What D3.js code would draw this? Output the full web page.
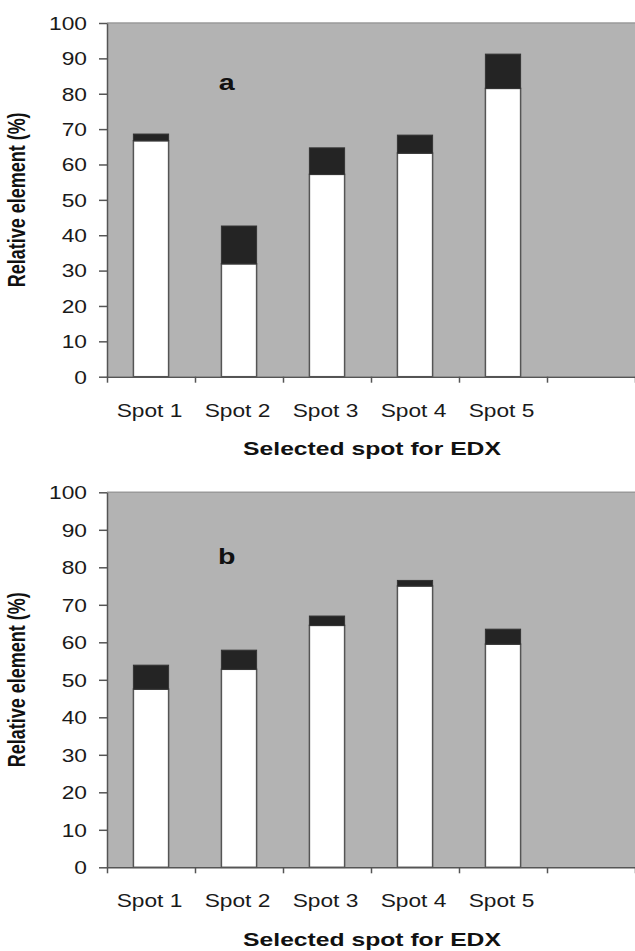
<!DOCTYPE html>
<html>
<head>
<meta charset="utf-8">
<script src="https://cdn.jsdelivr.net/npm/d3@7"></script>
<style>
  body{margin:0;background:#fff;}
  text{font-family:"Liberation Sans",Arial,sans-serif;}
</style>
</head>
<body>
<svg id="root"></svg>
<script>
      var width = 635;
      var height = 951;
      // the source figure is stretched sideways, text gets the same stretch
      var stretch = 1.3;

      var spots = ["Spot 1","Spot 2","Spot 3","Spot 4","Spot 5"];
      var yTicks = [0,10,20,30,40,50,60,70,80,90,100];
      // panel a
      var whiteA = [66.7, 31.9, 57.2, 63.2, 81.5];
      var blackA = [1.9, 10.7, 7.5, 5.1, 9.7];
      // panel b
      var whiteB = [47.5, 52.8, 64.5, 75.0, 59.5];
      var blackB = [6.4, 5.1, 2.5, 1.5, 4.0];

      var svgContainer = d3.select('#root')
            .attr('width',width)
            .attr('height',height);

      function drawPanel(top,bottom,letter,white,black){
            var g = svgContainer.append('g');
            var left = 107, right = 635;
            // 6 slots on the axis, last one stays empty
            var slots = spots.concat(['']);
            var xband = d3.scaleBand().domain(slots).range([left,right])
                  .paddingInner(0.6).paddingOuter(0.3);
            var xindex = d3.scaleLinear().domain([0,slots.length]).range([left,right]);
            var yscale = d3.scaleLinear().domain([0,100]).range([bottom,top]);

            //plot area
            g.append('rect')
                  .attr('x',left).attr('y',top)
                  .attr('width',right-left).attr('height',bottom-top)
                  .attr('fill','#b3b3b3');
            g.append('line')
                  .attr('x1',left).attr('x2',right)
                  .attr('y1',top).attr('y2',top)
                  .attr('stroke','#9a9a9a').attr('stroke-width',1.5);

            //bars
            var rows = spots.map(function(s,i){
                  return {spot:s, white:white[i], black:black[i]};
            });
            g.selectAll('.wbar').data(rows).enter()
                  .append('rect').attr('class','wbar')
                  .attr('x',function(d){ return xband(d.spot); })
                  .attr('width',xband.bandwidth())
                  .attr('y',function(d){ return yscale(d.white); })
                  .attr('height',function(d){ return yscale(0)-yscale(d.white); })
                  .attr('fill','#fff')
                  .attr('stroke','#555').attr('stroke-width',1.5);
            g.selectAll('.kbar').data(rows).enter()
                  .append('rect').attr('class','kbar')
                  .attr('x',function(d){ return xband(d.spot); })
                  .attr('width',xband.bandwidth())
                  .attr('y',function(d){ return yscale(d.white+d.black); })
                  .attr('height',function(d){ return yscale(d.white)-yscale(d.white+d.black); })
                  .attr('fill','#242424')
                  .attr('stroke','#333').attr('stroke-width',1);

            //y axis
            var yaxis = d3.axisLeft(yscale).tickValues(yTicks).tickSize(8).tickSizeOuter(0);
            var ya = g.append('g').attr('transform','translate('+left+',0)').call(yaxis);
            ya.select('.domain').attr('stroke','#555').attr('stroke-width',1.5);
            ya.selectAll('.tick line').attr('stroke','#555').attr('stroke-width',1.5);
            ya.selectAll('.tick text')
                  .attr('x',-20/stretch).attr('dy','0.36em')
                  .attr('transform','scale('+stretch+',1)')
                  .attr('font-size',17.5).attr('fill','#1a1a1a')
                  .style('font-family','"Liberation Sans",Arial,sans-serif');

            //x axis, ticks between the slots
            var xaxis = d3.axisBottom(xindex).tickValues(d3.range(0,slots.length+1))
                  .tickSize(6).tickSizeOuter(0).tickFormat('');
            var xa = g.append('g').attr('transform','translate(0,'+bottom+')').call(xaxis);
            xa.select('.domain').attr('stroke','#555').attr('stroke-width',1.5);
            xa.selectAll('.tick line').attr('stroke','#555').attr('stroke-width',1.5);

            //category labels
            g.selectAll('.cat').data(spots).enter()
                  .append('text').attr('class','cat')
                  .attr('transform',function(d){
                        return 'translate('+(xband(d)+xband.bandwidth()/2-1.5)+','+(bottom+40)+') scale('+stretch+',1)';
                  })
                  .attr('text-anchor','middle')
                  .attr('font-size',17.5).attr('fill','#1a1a1a')
                  .text(function(d){ return d; });

            //axis titles
            g.append('text')
                  .attr('transform','translate(372,'+(bottom+78.5)+') scale('+stretch+',1)')
                  .attr('text-anchor','middle')
                  .attr('font-size',19).attr('font-weight','bold').attr('fill','#111')
                  .text('Selected spot for EDX');
            g.append('text')
                  .attr('transform','translate(25,'+((top+bottom)/2)+') scale('+stretch+',1) rotate(-90)')
                  .attr('text-anchor','middle')
                  .attr('font-size',18).attr('font-weight','bold').attr('fill','#111')
                  .text('Relative element (%)');

            //panel letter
            g.append('text')
                  .attr('transform','translate('+xindex(1.36)+','+yscale(81)+') scale('+stretch+',1)')
                  .attr('text-anchor','middle')
                  .attr('font-size',22).attr('font-weight','bold').attr('fill','#111')
                  .text(letter);
      }

      drawPanel(23, 376.7, 'a', whiteA, blackA);
      drawPanel(492.3, 867.3, 'b', whiteB, blackB);
</script>
</body>
</html>
